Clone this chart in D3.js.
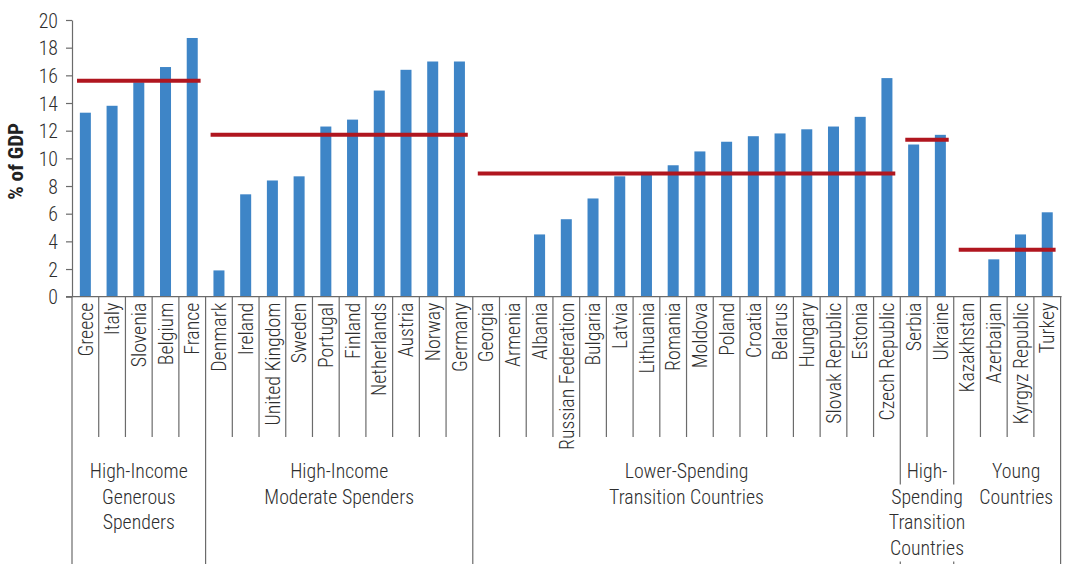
<!DOCTYPE html>
<html>
<head>
<meta charset="utf-8">
<script src="https://cdn.jsdelivr.net/npm/d3@7"></script>
<style>
  html, body { margin: 0; padding: 0; background: #fff; }
  svg { display: block; }
</style>
</head>
<body>
<svg id="chart" width="1066" height="564"></svg>
<script>
// ---------------- DATA ----------------
const categories = ["Greece","Italy","Slovenia","Belgium","France",
  "Denmark","Ireland","United Kingdom","Sweden","Portugal","Finland","Netherlands","Austria","Norway","Germany",
  "Georgia","Armenia","Albania","Russian Federation","Bulgaria","Latvia","Lithuania","Romania","Moldova","Poland",
  "Croatia","Belarus","Hungary","Slovak Republic","Estonia","Czech Republic",
  "Serbia","Ukraine",
  "Kazakhstan","Azerbaijan","Kyrgyz Republic","Turkey"];
const values = [13.3, 13.8, 15.5, 16.6, 18.7,
  1.9, 7.4, 8.4, 8.7, 12.3, 12.8, 14.9, 16.4, 17.0, 17.0,
  null, null, 4.5, 5.6, 7.1, 8.7, 8.9, 9.5, 10.5, 11.2,
  11.6, 11.8, 12.1, 12.3, 13.0, 15.8,
  11.0, 11.7,
  null, 2.7, 4.5, 6.1];
const groupNames = ["High-Income Generous Spenders","High-Income Moderate Spenders",
  "Lower-Spending Transition Countries","High-Spending Transition Countries","Young Countries"];
const groupLabelLines = [["High-Income","Generous","Spenders"],["High-Income","Moderate Spenders"],
  ["Lower-Spending","Transition Countries"],["High-","Spending","Transition","Countries"],["Young","Countries"]];
const groupSizes = [5, 10, 16, 2, 4];
const groupAverages = [15.6, 11.7, 8.9, 11.35, 3.4];
const yTicks = [0, 2, 4, 6, 8, 10, 12, 14, 16, 18, 20];
const yTitle = "% of GDP";

// ---------------- FONT ----------------
function hasFont(name) {
  const c = document.createElement("canvas").getContext("2d");
  const t = "United Kingdom Transition 0123456789";
  c.font = "20px monospace"; const a = c.measureText(t).width;
  c.font = `20px "${name}", monospace`; const b = c.measureText(t).width;
  c.font = "20px serif"; const a2 = c.measureText(t).width;
  c.font = `20px "${name}", serif`; const b2 = c.measureText(t).width;
  return a !== b || a2 !== b2;
}
const fontCandidates = ["Roboto Condensed", "Liberation Sans Narrow", "DejaVu Sans Condensed", "Roboto"];
const FONT = fontCandidates.find(hasFont) || "Roboto";
const FS = 20;
const FW = 300;
function measure(text, weight) {
  const c = document.createElement("canvas").getContext("2d");
  c.font = `${weight || FW} ${FS}px "${FONT}", sans-serif`;
  return c.measureText(text).width;
}
const SX = Math.max(0.65, Math.min(1.1, 123 / measure("United Kingdom")));
const SXB = Math.max(0.65, Math.min(1.1, 77 / measure(yTitle, "bold")));

// ---------------- LAYOUT ----------------
const W = 1066, H = 564;
const plotLeft = 72, plotRight = 1060.6, yBase = 296.7, yTopPx = 20;
const sepBottom = 437, bottom = H;
const textColor = "#2e2e2e", axisColor = "#6b6b6b", barColor = "#3e85c7", avgColor = "#b0161f";

const svg = d3.select("#chart").style("font-family", `"${FONT}", sans-serif`);

const x = d3.scaleBand().domain(categories).range([plotLeft, plotRight])
  .paddingInner(0.588).paddingOuter(0.294);
const y = d3.scaleLinear().domain([0, 20]).range([yBase, yTopPx]);
const step = x.step();
const slotStart = i => x(categories[i]) - (step - x.bandwidth()) / 2;
const slotEnd = i => slotStart(i) + step;

// group start indexes
const groupStarts = [];
groupSizes.reduce((acc, n) => { groupStarts.push(acc); return acc + n; }, 0);
const groups = groupNames.map((name, g) => ({
  name, lines: groupLabelLines[g], avg: groupAverages[g],
  start: groupStarts[g], end: groupStarts[g] + groupSizes[g] - 1
}));
const boundarySet = new Set(groups.map(g => g.start).concat([categories.length]));

// ---------------- SEPARATORS ----------------
const sepData = d3.range(categories.length + 1).map(i => ({
  x: i < categories.length ? slotStart(i) : slotEnd(categories.length - 1),
  full: boundarySet.has(i)
}));
svg.append("g").attr("class", "separators")
  .selectAll("line").data(sepData).join("line")
  .attr("x1", d => d.x).attr("x2", d => d.x)
  .attr("y1", yBase).attr("y2", d => d.full ? bottom : sepBottom)
  .attr("stroke", axisColor).attr("stroke-width", 1.2);

// ---------------- BARS ----------------
svg.append("g").attr("class", "bars")
  .selectAll("rect").data(categories.map((c, i) => ({ c, v: values[i] })).filter(d => d.v != null))
  .join("rect")
  .attr("x", d => x(d.c)).attr("width", x.bandwidth())
  .attr("y", d => y(d.v)).attr("height", d => y(0) - y(d.v))
  .attr("fill", barColor);

// ---------------- AXES ----------------
const yAxis = svg.append("g").attr("transform", `translate(${plotLeft},0)`)
  .call(d3.axisLeft(y).tickValues(yTicks).tickSize(6).tickPadding(8).tickSizeOuter(0));
yAxis.select(".domain").attr("stroke", axisColor).attr("stroke-width", 1.2);
yAxis.selectAll(".tick line").attr("stroke", axisColor).attr("stroke-width", 1.2);
yAxis.selectAll(".tick text")
  .attr("x", null).attr("dy", "0.36em")
  .attr("transform", `translate(-14,0) scale(${SX},1)`)
  .attr("font-size", FS).attr("font-weight", FW).attr("fill", textColor)
  .style("font-family", `"${FONT}", sans-serif`);

svg.append("line")
  .attr("x1", plotLeft - 6).attr("x2", plotRight + 1)
  .attr("y1", yBase).attr("y2", yBase)
  .attr("stroke", axisColor).attr("stroke-width", 1.2);

// y title
svg.append("text")
  .attr("transform", `translate(23,${(yBase + yTopPx) / 2 + 3}) rotate(-90) scale(${SXB},1)`)
  .attr("text-anchor", "middle")
  .attr("font-size", FS).attr("font-weight", "bold").attr("fill", "#222")
  .text(yTitle);

// ---------------- AVERAGE LINES ----------------
svg.append("g").attr("class", "avg")
  .selectAll("line").data(groups).join("line")
  .attr("x1", g => slotStart(g.start) + 5).attr("x2", g => slotEnd(g.end) - 5)
  .attr("y1", g => y(g.avg)).attr("y2", g => y(g.avg))
  .attr("stroke", avgColor).attr("stroke-width", 4);

// ---------------- CATEGORY LABELS ----------------
svg.append("g").attr("class", "cat-labels")
  .selectAll("text").data(categories).join("text")
  .attr("transform", c => `translate(${x(c) + x.bandwidth() / 2},${yBase + 6}) rotate(-90) scale(${SX},1)`)
  .attr("text-anchor", "end").attr("dy", "0.36em")
  .attr("font-size", FS).attr("font-weight", FW).attr("fill", textColor)
  .text(c => c);

// ---------------- GROUP LABELS ----------------
const lineH = 25.5, firstBase = 478;
const gl = svg.append("g").attr("class", "group-labels");
groups.forEach((g, gi) => {
  const x0 = slotStart(g.start), x1 = slotEnd(g.end);
  // last group's label sits a little right of centre in the reference
  const cx = (x0 + x1) / 2 + (gi === groups.length - 1 ? 9 : 0);
  g.lines.forEach((ln, li) => {
    const w = measure(ln) * SX;
    const base = firstBase + li * lineH;
    if (w + 4 > x1 - x0) {
      gl.append("rect")
        .attr("x", cx - w / 2 - 2).attr("width", w + 4)
        .attr("y", base - 19).attr("height", lineH + 0.5)
        .attr("fill", "#fff");
    }
    gl.append("text")
      .attr("transform", `translate(${cx},${base}) scale(${SX},1)`)
      .attr("text-anchor", "middle")
      .attr("font-size", FS).attr("font-weight", FW).attr("fill", textColor)
      .text(ln);
  });
});
</script>
</body>
</html>
